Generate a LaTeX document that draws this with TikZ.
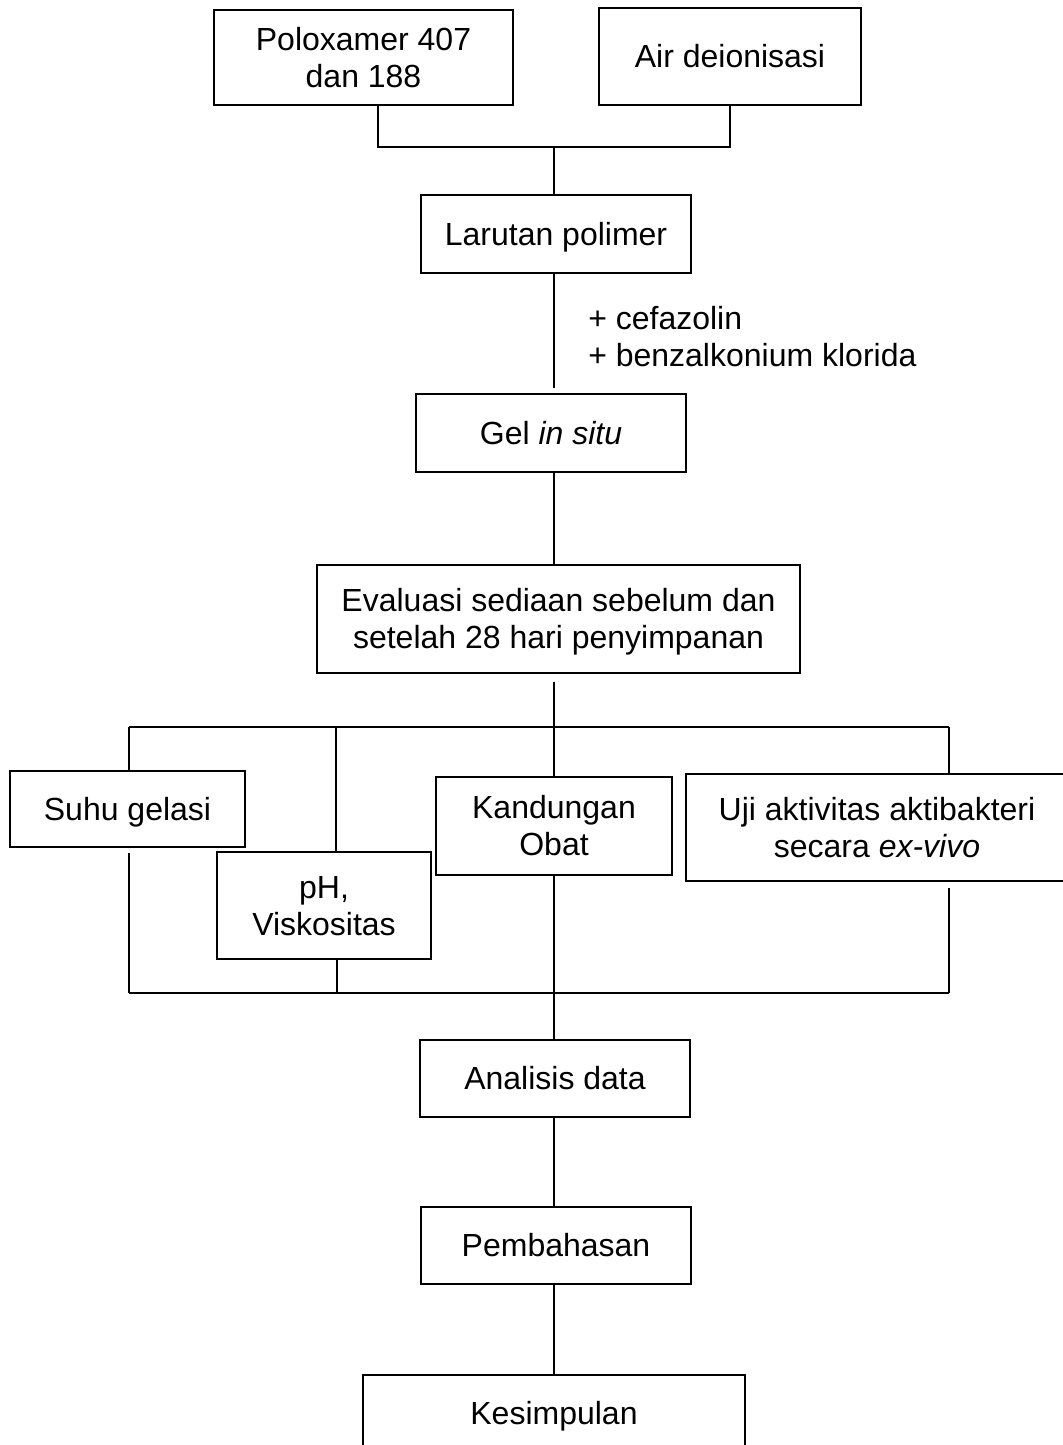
\documentclass[tikz,border=0pt]{standalone}
\usepackage{fontspec}
\setmainfont{Liberation Sans}
\newcommand{\fs}{\rule{0pt}{22pt}}
\newcommand{\ls}{\rule[-5pt]{0pt}{5pt}}
\begin{document}
\begin{tikzpicture}[x=0.75pt,y=-0.75pt,
  box/.style={draw, line width=1.6pt, inner sep=0pt, align=center,
    font=\fontsize{24}{27.75}\selectfont},
  conn/.style={line width=1.6pt},
  lbl/.style={anchor=base west, inner sep=0pt, font=\fontsize{24}{27.75}\selectfont}]
\path[use as bounding box, clip] (0,0) rectangle (1063,1445);
\fill[white] (0,0) rectangle (1063,1445);
% nodes
\node[box, minimum width=224.25pt, minimum height=71.25pt] (pol) at (363.5,57.5) {\fs Poloxamer 407\\dan 188\ls};
\node[box, minimum width=196.5pt, minimum height=72.75pt] (air) at (730,56.5) {\fs Air deionisasi\ls};
\node[box, minimum width=202.5pt, minimum height=58.5pt] (lar) at (556,234) {\fs Larutan polimer\ls};
\node[box, minimum width=202.5pt, minimum height=58.5pt] (gel) at (551,433) {\fs Gel \textit{in situ}\ls};
\node[box, minimum width=362.25pt, minimum height=81pt] (eva) at (558.5,619) {\fs Evaluasi sediaan sebelum dan\\setelah 28 hari penyimpanan\ls};
\node[box, minimum width=176.25pt, minimum height=57pt] (suhu) at (127.5,809) {\fs Suhu gelasi\ls};
\node[box, minimum width=160.5pt, minimum height=80.25pt] (ph) at (324,905.5) {\fs pH,\\Viskositas\ls};
\node[box, minimum width=177pt, minimum height=73.5pt] (kan) at (554,826) {\fs Kandungan\\Obat\ls};
\node[box, minimum width=286.5pt, minimum height=80.25pt] (uji) at (877,827.5) {\fs Uji aktivitas aktibakteri\\secara \textit{ex-vivo}\ls};
\node[box, minimum width=202.5pt, minimum height=57.75pt] (ana) at (555,1078.5) {\fs Analisis data\ls};
\node[box, minimum width=202.5pt, minimum height=57.75pt] (pem) at (556,1245.5) {\fs Pembahasan\ls};
\node[box, minimum width=286.5pt, minimum height=57pt] (kes) at (554,1413) {\fs Kesimpulan\ls};
\node[lbl] (add1) at (588,329) {+ cefazolin};
\node[lbl] (add2) at (588,366) {+ benzalkonium klorida};
% helper coordinates
\coordinate (xa) at (378,0);
\coordinate (xl) at (129,0);
\coordinate (xb) at (336,0);
\coordinate (xph) at (337,0);
\coordinate (xm) at (554,0);
\coordinate (xc) at (949,0);
\coordinate (j1) at (554,147);
\coordinate (top) at (554,727);
\coordinate (bot) at (554,993);
% connectors
\draw[conn] (xa |- pol.south) |- (j1) -| (air.south);
\draw[conn] (j1) -- (xm |- lar.north);
\draw[conn, shorten >=3.75pt] (xm |- lar.south) -- (xm |- gel.north);
\draw[conn] (xm |- gel.south) -- (xm |- eva.north);
\draw[conn, shorten <=6pt] (xm |- eva.south) -- (top);
\draw[conn] (xl |- top) -- (xc |- top);
\draw[conn] (xl |- top) -- (xl |- suhu.north);
\draw[conn] (xb |- top) -- (xb |- ph.north);
\draw[conn] (top) -- (xm |- kan.north);
\draw[conn] (xc |- top) -- (xc |- uji.north);
\draw[conn, shorten <=3.75pt] (xl |- suhu.south) -- (xl |- bot);
\draw[conn] (xph |- ph.south) -- (xph |- bot);
\draw[conn] (xm |- kan.south) -- (bot);
\draw[conn, shorten <=4.5pt] (xc |- uji.south) -- (xc |- bot);
\draw[conn] (xl |- bot) -- (xc |- bot);
\draw[conn] (bot) -- (xm |- ana.north);
\draw[conn] (xm |- ana.south) -- (xm |- pem.north);
\draw[conn] (xm |- pem.south) -- (xm |- kes.north);
\end{tikzpicture}
\end{document}
